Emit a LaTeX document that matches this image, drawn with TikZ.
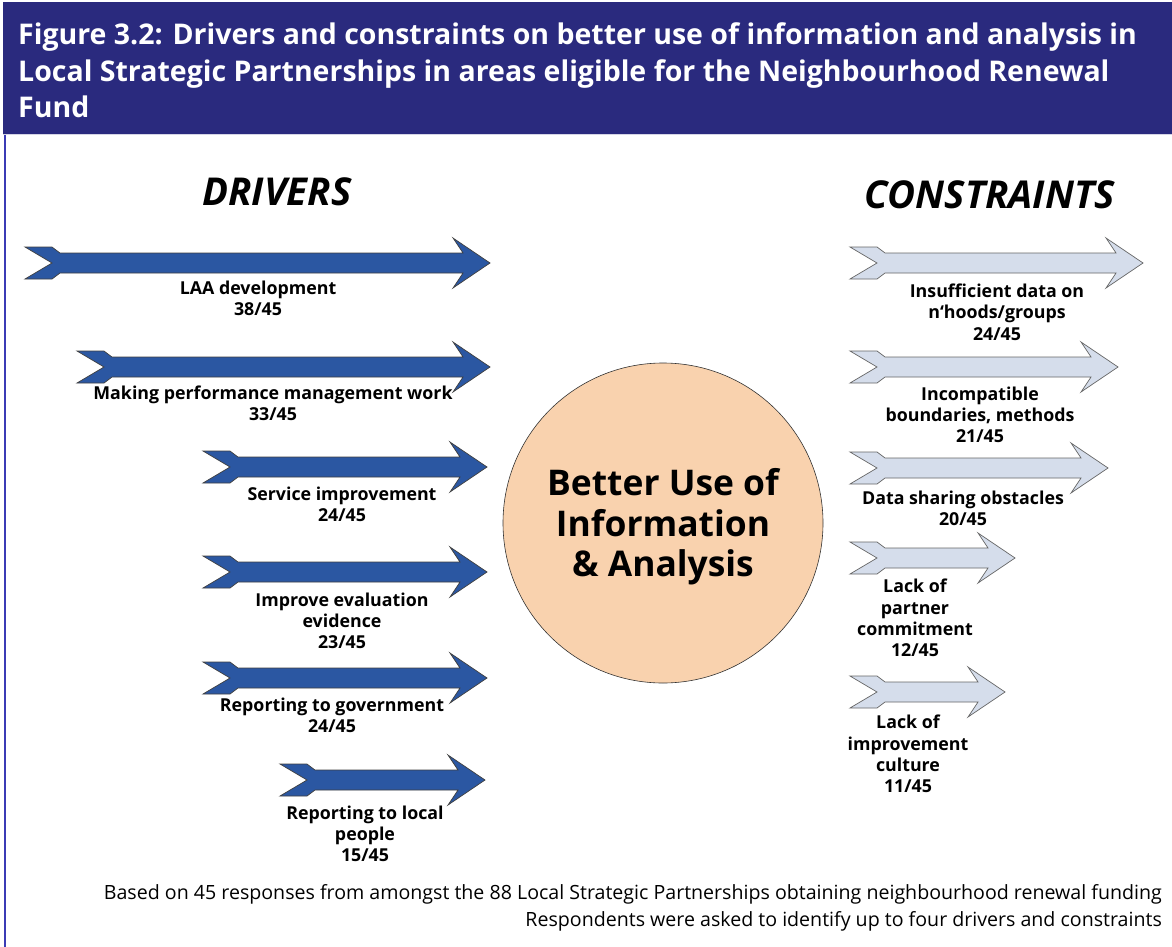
\documentclass[tikz,border=0pt]{standalone}
\usepackage{fontspec}
\setmainfont{Open Sans}
\definecolor{navy}{HTML}{2A2A7E}
\definecolor{frameblue}{HTML}{3B3BB5}
\definecolor{drvfill}{HTML}{2B57A2}
\definecolor{cnsfill}{HTML}{D5DDEB}
\definecolor{circfill}{HTML}{F9D2AE}
\newcommand\fatarrow[4]{%
  \draw[#1] (#2,#4-16) -- (#2+27,#4-16) -- (#2+35,#4-10) -- (#3-27,#4-10) -- (#3-37,#4-25)
   -- (#3,#4) -- (#3-37,#4+25) -- (#3-27,#4+10) -- (#2+35,#4+10) -- (#2+27,#4+16)
   -- (#2,#4+16) -- (#2+27,#4) -- cycle;}
\tikzset{
  drvarrow/.style={fill=drvfill,draw=black!75,line width=0.7pt,line join=miter},
  cnsarrow/.style={fill=cnsfill,draw=black!60,line width=0.7pt,line join=miter},
  lbl/.style={font=\bfseries\fontsize{17.8}{21.3}\selectfont,align=center,inner sep=0pt,text=black},
  titletxt/.style={font=\bfseries\fontsize{28.5}{36}\selectfont,text=white,anchor=base west,inner sep=0pt},
  headtxt/.style={font=\bfseries\itshape\fontsize{38.4}{40}\selectfont,inner sep=0pt},
  foot/.style={font=\fontsize{19.6}{22}\selectfont,anchor=base east,inner sep=0pt},
}
\begin{document}
\begin{tikzpicture}[x=1pt,y=-1pt]
\useasboundingbox (0,0) rectangle (1172,947);
\fill[white] (0,0) rectangle (1172,947);
% header
\fill[navy] (3,2) rectangle (1172,134);
\draw[white!80!navy,line width=1pt] (3,135) -- (1172,135);
\draw[frameblue,line width=2pt] (5,135) -- (5,947);
\node[titletxt] (t1) at (18,45) {Figure 3.2: Drivers and constraints on better use of information and analysis in};
\node[titletxt] (t2) at (18,82) {Local Strategic Partnerships in areas eligible for the Neighbourhood Renewal};
\node[titletxt] (t3) at (18,118) {Fund};
% column headings
\node[headtxt] (drv) at (277,192) {DRIVERS};
\node[headtxt] (cns) at (990,195) {CONSTRAINTS};
% drivers
\fatarrow{drvarrow}{25}{490}{263}
\fatarrow{drvarrow}{77}{490}{367}
\fatarrow{drvarrow}{203}{487}{467}
\fatarrow{drvarrow}{203}{487}{572}
\fatarrow{drvarrow}{203}{487}{678}
\fatarrow{drvarrow}{280}{485}{780}
\node[lbl] (d1) at (258,298) {LAA development\\38/45};
\node[lbl] (d2) at (273,403) {Making performance management work\\33/45};
\node[lbl] (d3) at (342,504) {Service improvement\\24/45};
\node[lbl] (d4) at (342,621) {Improve evaluation\\evidence\\23/45};
\node[lbl] (d5) at (332,715) {Reporting to government\\24/45};
\node[lbl] (d6) at (365,834) {Reporting to local\\people\\15/45};
% constraints
\fatarrow{cnsarrow}{850}{1143}{263}
\fatarrow{cnsarrow}{850}{1118}{367}
\fatarrow{cnsarrow}{850}{1108}{468}
\fatarrow{cnsarrow}{850}{1015}{558}
\fatarrow{cnsarrow}{850}{1005}{692}
\node[lbl] (c1) at (997,312) {Insufficient data on\\n‘hoods/groups\\24/45};
\node[lbl] (c2) at (980,415) {Incompatible\\boundaries, methods\\21/45};
\node[lbl] (c3) at (963,508) {Data sharing obstacles\\20/45};
\node[lbl] (c4) at (915,618) {Lack of\\partner\\commitment\\12/45};
\node[lbl] (c5) at (908,754) {Lack of\\improvement\\culture\\11/45};
% centre circle
\node[circle,minimum size=320pt,fill=circfill,draw=black!80,line width=0.6pt,inner sep=0pt] (core) at (663,523) {};
\node[font=\bfseries\fontsize{35.4}{40.5}\selectfont,align=center,inner sep=0pt] (coretxt) at (663,527) {Better Use of\\Information\\\& Analysis};
% footnote
\node[foot] (f1) at (1162,899) {Based on 45 responses from amongst the 88 Local Strategic Partnerships obtaining neighbourhood renewal funding};
\node[foot] (f2) at (1162,926) {Respondents were asked to identify up to four drivers and constraints};
\end{tikzpicture}
\end{document}
